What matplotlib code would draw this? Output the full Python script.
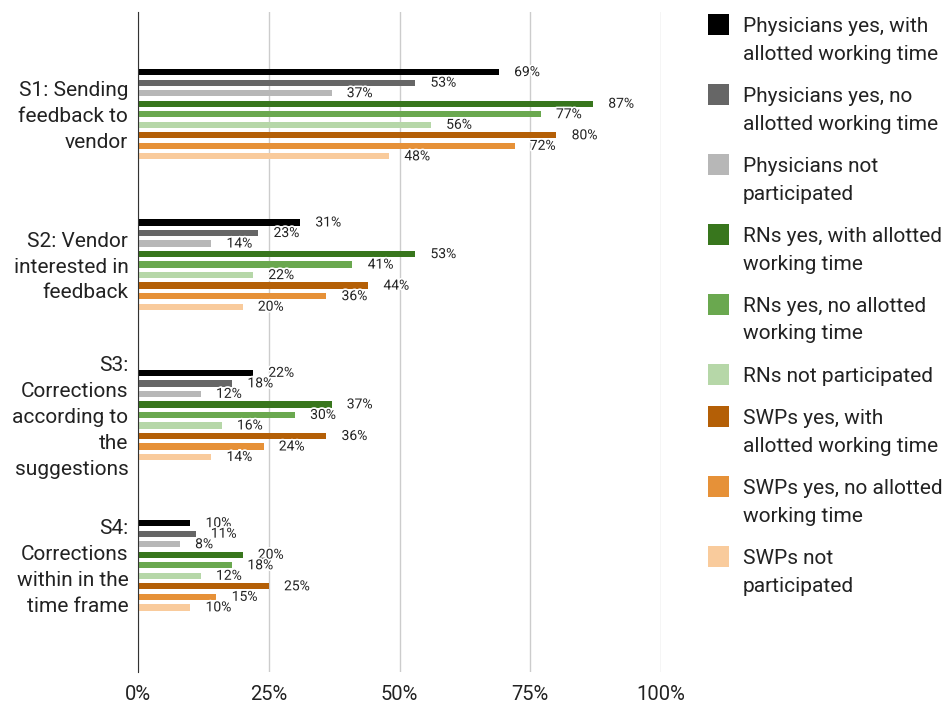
import numpy as np
import matplotlib.pyplot as plt
import matplotlib.patheffects as pe
import matplotlib.transforms as mtransforms
from matplotlib.patches import Rectangle

plt.rcParams['font.family'] = ['Roboto', 'DejaVu Sans']

# Survey statements (y categories)
statements = ['S1: Sending\nfeedback to\nvendor',
              'S2: Vendor\ninterested in\nfeedback',
              'S3:\nCorrections\naccording to\nthe\nsuggestions',
              'S4:\nCorrections\nwithin in the\ntime frame']

groups = ['Physicians yes, with\nallotted working time',
          'Physicians yes, no\nallotted working time',
          'Physicians not\nparticipated',
          'RNs yes, with allotted\nworking time',
          'RNs yes, no allotted\nworking time',
          'RNs not participated',
          'SWPs yes, with\nallotted working time',
          'SWPs yes, no allotted\nworking time',
          'SWPs not\nparticipated']

colors = ['#000000', '#666666', '#b7b7b7',
          '#38761d', '#6aa84f', '#b6d7a8',
          '#b45f06', '#e69138', '#f9cb9c']

# percentages, one list per group (S1..S4)
phys_yes_time = [69, 31, 22, 10]
phys_yes_notime = [53, 23, 18, 11]
phys_not = [37, 14, 12, 8]
rn_yes_time = [87, 53, 37, 20]
rn_yes_notime = [77, 41, 30, 18]
rn_not = [56, 22, 16, 12]
swp_yes_time = [80, 44, 36, 25]
swp_yes_notime = [72, 36, 24, 15]
swp_not = [48, 20, 14, 10]

series = [phys_yes_time, phys_yes_notime, phys_not,
          rn_yes_time, rn_yes_notime, rn_not,
          swp_yes_time, swp_yes_notime, swp_not]

W, H = 946, 704
fig = plt.figure(figsize=(W / 100, H / 100), dpi=100)
ax = fig.add_axes([138 / W, 1 - 672 / H, 523 / W, 660 / H])

y = np.arange(len(statements))
step = 0.07
for i, (vals, col) in enumerate(zip(series, colors)):
    pos = y + (i - 4) * step
    ax.barh(pos, vals, height=0.042, color=col, zorder=3)
    for p, v in zip(pos, vals):
        ax.annotate(f'{v}%', (v, p), xytext=(11, 0), textcoords='offset points',
                    ha='left', va='center', fontsize=10, color='#222222', zorder=4,
                    path_effects=[pe.withStroke(linewidth=2.5, foreground='white')])

ax.set_xlim(0, 100)
ax.set_ylim(3.71, -0.68)
ax.set_xticks([0, 25, 50, 75, 100])
ax.set_xticklabels(['0%', '25%', '50%', '75%', '100%'], fontsize=14.5, color='#222222')
ax.set_yticks(y)
ax.set_yticklabels(statements, fontsize=15, color='#222222', ha='right',
                   linespacing=1.46)
ax.tick_params(axis='both', length=0)
ax.tick_params(axis='x', pad=9)
ax.tick_params(axis='y', pad=7)

# nudge the statement labels up a little
nudge = mtransforms.ScaledTranslation(0, 3 / 100, fig.dpi_scale_trans)
for t in ax.get_yticklabels():
    t.set_transform(t.get_transform() + nudge)

ax.grid(axis='x', color='#cccccc', linewidth=1, zorder=0)
for s in ['top', 'right', 'bottom']:
    ax.spines[s].set_visible(False)
ax.spines['left'].set_color('#333333')
ax.spines['left'].set_zorder(5)

# legend: square aligned with the first line of each entry
line_h = 28
ypix = 24
for lab, col in zip(groups, colors):
    nlines = lab.count('\n') + 1
    fig.patches.append(Rectangle((708 / W, 1 - (ypix + 10.5) / H), 21 / W, 21 / H,
                                 transform=fig.transFigure, facecolor=col,
                                 edgecolor='none'))
    # baseline alignment refers to the last line
    base = ypix + 7.5 + (nlines - 1) * line_h
    fig.text(743 / W, 1 - base / H, lab, fontsize=15, color='#222222',
             ha='left', va='baseline', linespacing=1.56)
    ypix += nlines * line_h + 14

fig.savefig('out.png', dpi=100)
